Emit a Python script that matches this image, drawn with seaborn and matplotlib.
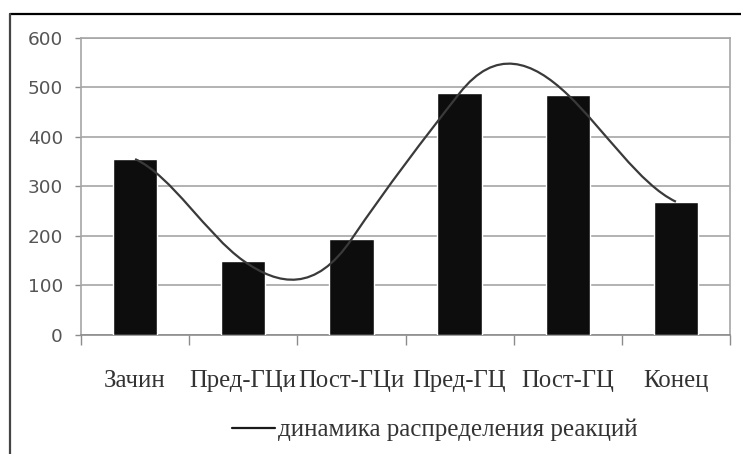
import numpy as np
import pandas as pd
import seaborn as sns
import matplotlib
matplotlib.use("Agg")
import matplotlib.pyplot as plt
from matplotlib.path import Path
from matplotlib.patches import PathPatch
from matplotlib.lines import Line2D

# chart data
categories = ["Зачин", "Пред-ГЦи", "Пост-ГЦи", "Пред-ГЦ", "Пост-ГЦ", "Конец"]
reactions = [355, 150, 193, 488, 485, 269]
line_label = "динамика распределения реакций"
y_ticks = [0, 100, 200, 300, 400, 500, 600]

sns.set_theme(style="white")
plt.rcParams["font.family"] = ["DejaVu Sans"]

df = pd.DataFrame({"cat": categories, "val": reactions})

fig = plt.figure(figsize=(7.41, 4.54), dpi=100)
ax = fig.add_axes([81 / 741, 1 - 335 / 454, (730 - 81) / 741, (335 - 37.7) / 454])

sns.barplot(data=df, x="cat", y="val", color="#0d0d0d", width=0.41,
            saturation=1, ax=ax, zorder=3)

# Excel-like smoothed line through the bar tops (cubic bezier segments)
xs = np.arange(len(reactions))
ys = np.array(reactions, dtype=float)
slopes = np.zeros(len(ys))
slopes[1:-1] = (ys[2:] - ys[:-2]) / 2
slopes[0] = (ys[1] - ys[0]) * 0.25
slopes[-1] = (ys[-1] - ys[-2]) * 0.25
k = 1.9  # excel smoothing is looser than plain catmull-rom
verts = [(xs[0], ys[0])]
codes = [Path.MOVETO]
for i in range(len(ys) - 1):
    verts += [(xs[i] + 1 / 3, ys[i] + k * slopes[i] / 3),
              (xs[i + 1] - 1 / 3, ys[i + 1] - k * slopes[i + 1] / 3),
              (xs[i + 1], ys[i + 1])]
    codes += [Path.CURVE4] * 3
ax.add_patch(PathPatch(Path(verts, codes), facecolor="none",
                       edgecolor="#3a3a3a", lw=1.6, zorder=4))

ax.set_xlim(-0.5, len(categories) - 0.5)
ax.set_ylim(0, 600)
ax.set_yticks(y_ticks)
ax.set_xlabel("")
ax.set_ylabel("")

# category boundaries carry the tick marks, labels sit at centres
ax.set_xticks(np.arange(len(categories) + 1) - 0.5)
ax.set_xticklabels([])
ax.set_xticks(xs, minor=True)
ax.set_xticklabels(categories, minor=True, fontfamily="Liberation Serif",
                   fontsize=17.8, color="#333333")
ax.tick_params(axis="x", which="major", direction="out", length=7,
               width=1, color="#8c8c8c", bottom=True)
ax.tick_params(axis="x", which="minor", length=0, pad=25)
ax.tick_params(axis="y", direction="out", length=4, width=1,
               color="#8c8c8c", left=True, labelsize=13.3,
               labelcolor="#555555", pad=9)

ax.grid(axis="y", color="#a6a6a6", lw=1.2, zorder=0)
ax.set_axisbelow(True)
for s in ax.spines.values():
    s.set_color("#a6a6a6")
    s.set_linewidth(1.2)
ax.spines["bottom"].set_color("#8c8c8c")

handle = Line2D([], [], color="#1a1a1a", lw=1.6)
fig.legend([handle], [line_label], loc="center",
           bbox_to_anchor=(435 / 741, 1 - 430 / 454), frameon=False,
           prop={"family": "Liberation Serif", "size": 18},
           handlelength=1.7, handletextpad=0.15,
           labelcolor="#333333")

# outer frame of the pasted chart (top and left edges)
fig.add_artist(Line2D([10 / 741, 1.0], [1 - 14 / 454, 1 - 14 / 454],
                      color="black", lw=1.6, transform=fig.transFigure))
fig.add_artist(Line2D([10 / 741, 10 / 741], [0.0, 1 - 14 / 454],
                      color="#444444", lw=1.6, transform=fig.transFigure))

fig.savefig("out.png", dpi=100, facecolor="white")
